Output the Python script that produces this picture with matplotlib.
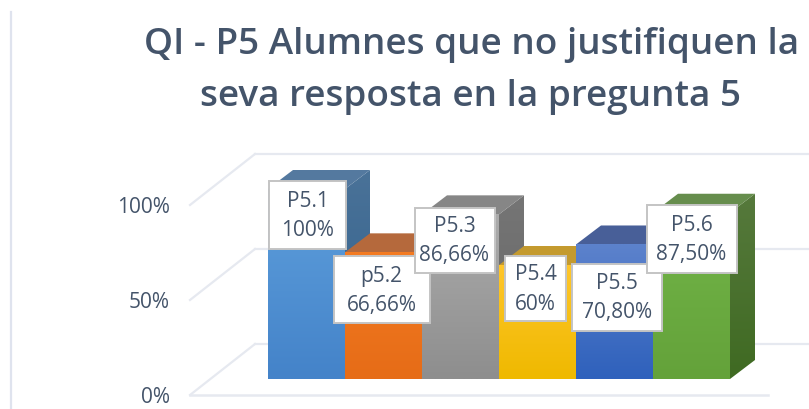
import numpy as np
import matplotlib
matplotlib.use("Agg")
import matplotlib.pyplot as plt
from matplotlib.patches import Polygon, Rectangle
from matplotlib.lines import Line2D

# ---- data ----
categories = ["P5.1", "p5.2", "P5.3", "P5.4", "P5.5", "P5.6"]
values = [100, 66.66, 86.66, 60, 70.80, 87.50]
value_labels = ["100%", "66,66%", "86,66%", "60%", "70,80%", "87,50%"]
axis_ticks = [0, 50, 100]
axis_tick_labels = ["0%", "50%", "100%"]
title_lines = ["QI - P5 Alumnes que no justifiquen la", "seva resposta en la pregunta 5"]

# ---- style ----
front_top = ["#5e9fdc", "#f47b22", "#ababab", "#ffc62b", "#5c82cc", "#72b548"]
front_bottom = ["#4483c9", "#e66c17", "#8e8e8e", "#efb900", "#2f61bc", "#64a23a"]
top_face = ["#54799f", "#b5693c", "#868686", "#c49a2e", "#485f98", "#668d4d"]
side_top = ["#4a7298", "#a05c30", "#757575", "#a9861f", "#3e5488", "#56793c"]
side_bottom = ["#30608c", "#96501c", "#666666", "#a07f10", "#2c4a86", "#3f6a22"]
text_col = "#44546a"
grid_col = "#e6e9f0"

W, H = 809, 410
PX_PER_CAT = 77.0
PX_PER_PCT = 1.9
X0_PX, Y0_PX = 268.0, 380.0

fig = plt.figure(figsize=(W / 100, H / 100), dpi=100, facecolor="white")
ax = fig.add_axes([0, 0, 1, 1])
ax.set_xlim(-X0_PX / PX_PER_CAT, (W - X0_PX) / PX_PER_CAT)
ax.set_ylim(-(H - Y0_PX) / PX_PER_PCT, Y0_PX / PX_PER_PCT)
ax.axis("off")


def dx(px):
    return px / PX_PER_CAT


def dy(px):
    return px / PX_PER_PCT


def gradient(x0, x1, y0, y1, c_top, c_bot, clip, z):
    a = np.array(matplotlib.colors.to_rgb(c_top))
    b = np.array(matplotlib.colors.to_rgb(c_bot))
    t = np.linspace(0, 1, 64)[:, None, None]
    img = a[None, None, :] * (1 - t) + b[None, None, :] * t
    im = ax.imshow(img, extent=(x0, x1, y0, y1), origin="upper", aspect="auto",
                   zorder=z, interpolation="bilinear")
    im.set_clip_path(clip)


# walls and floor
wall_dx, wall_dy = dx(65), dy(51)
wall_left, floor_drop = dx(-78), dy(16)
wall_right = (W - X0_PX) / PX_PER_CAT
for v, lab in zip(axis_ticks, axis_tick_labels):
    yf = v - floor_drop
    yb = yf + wall_dy
    ax.add_line(Line2D([wall_left, wall_left + wall_dx], [yf, yb], color=grid_col, lw=1.6, zorder=1))
    ax.add_line(Line2D([wall_left + wall_dx, wall_right], [yb, yb], color=grid_col, lw=1.6, zorder=1))
    ax.text(wall_left - dx(20), yf - dy(2), lab, ha="right", va="center",
            fontsize=15, color=text_col, family="Open Sans")
ax.add_line(Line2D([wall_left, dx(500)], [-floor_drop, -floor_drop], color=grid_col, lw=1.8, zorder=1))

# left frame line
ax.add_line(Line2D([dx(11 - X0_PX)] * 2, [dy(Y0_PX - 13), dy(Y0_PX - H)], color="#dfe3ee", lw=1.6, zorder=1))

# 3-D bars
ddx, ddy = dx(25), dy(19)
z = 2.0
for i, v in enumerate(values):
    side = Polygon([(i + 1, 0), (i + 1 + ddx, ddy), (i + 1 + ddx, v + ddy), (i + 1, v)],
                   closed=True, fc="none", ec="none", zorder=z)
    ax.add_patch(side)
    gradient(i + 1, i + 1 + ddx, 0, v + ddy, side_top[i], side_bottom[i], side, z)
    ax.add_patch(Polygon([(i, v), (i + ddx, v + ddy), (i + 1 + ddx, v + ddy), (i + 1, v)],
                         closed=True, fc=top_face[i], ec="none", zorder=z + 0.1))
    front = Rectangle((i, 0), 1, v, fc="none", ec="none", zorder=z + 0.2)
    ax.add_patch(front)
    gradient(i, i + 1, 0, v, front_top[i], front_bottom[i], front, z + 0.2)
    z += 1

# value labels: box centre relative to the bar's front centre and top (pixels), box size (pixels)
label_offset_x = [1, -2, -6, -2, 2.5, 0]
label_offset_y = [-26, -37.5, -26, -23.5, -53, -26]
label_w = [77, 96, 80, 61, 90, 90]
label_h = [68, 67, 65, 65, 67, 68]
for i, (c, v, vl) in enumerate(zip(categories, values, value_labels)):
    cx = i + 0.5 + dx(label_offset_x[i])
    cy = v + dy(label_offset_y[i])
    w, h = dx(label_w[i]), dy(label_h[i])
    ax.add_patch(Rectangle((cx - w / 2, cy - h / 2), w, h, fc="white", ec="#c4c4c4", lw=1.4,
                           zorder=20 + i * 0.1))
    ax.text(cx, cy, f"{c}\n{vl}", ha="center", va="center", fontsize=15, color=text_col,
            family="Open Sans", linespacing=1.5, zorder=20.05 + i * 0.1)

# title
for line, px, py in zip(title_lines, [472, 470], [45, 97]):
    ax.text(dx(px - X0_PX), dy(Y0_PX - py), line, ha="center", va="center", fontsize=26.6,
            fontweight="semibold", color=text_col, family="Open Sans")

fig.savefig("out.png", dpi=100, facecolor="white")
